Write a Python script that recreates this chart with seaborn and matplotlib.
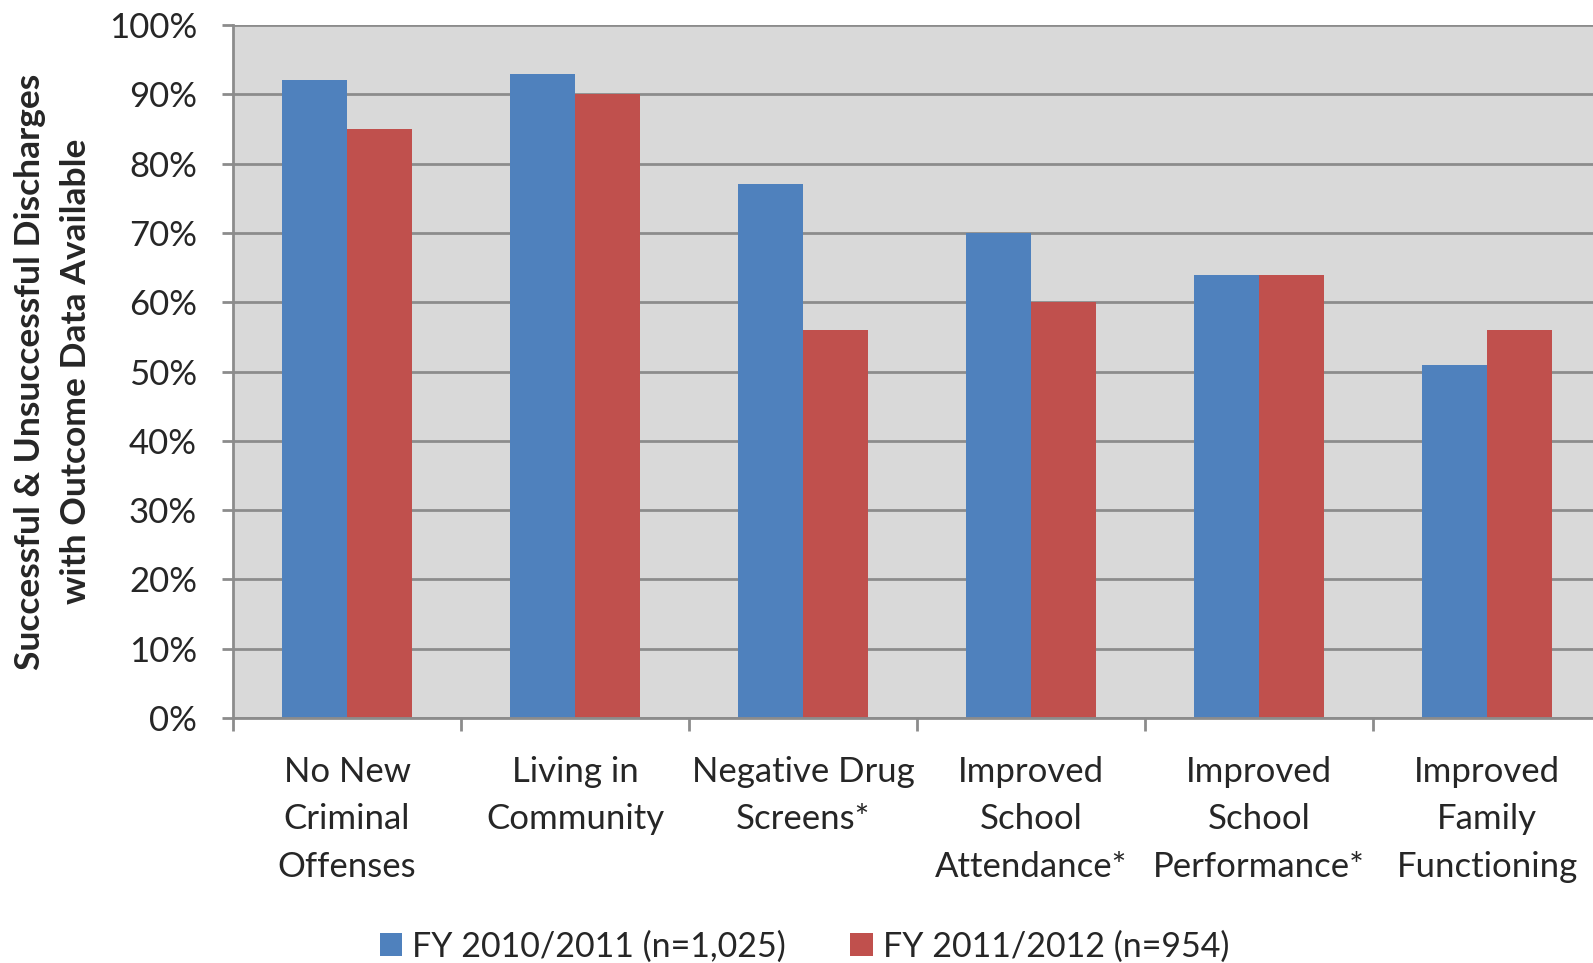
import matplotlib
matplotlib.use("Agg")
import matplotlib.pyplot as plt
import seaborn as sns
import numpy as np
import pandas as pd
from matplotlib.patches import Patch

# data
categories = [
    "No New\nCriminal\nOffenses",
    "Living in\nCommunity",
    "Negative Drug\nScreens*",
    "Improved\nSchool\nAttendance*",
    "Improved\nSchool\nPerformance*",
    "Improved\nFamily\nFunctioning",
]
series_names = ["FY 2010/2011 (n=1,025)", "FY 2011/2012 (n=954)"]
fy_2010 = [92, 93, 77, 70, 64, 51]
fy_2011 = [85, 90, 56, 60, 64, 56]
y_ticks = [0, 10, 20, 30, 40, 50, 60, 70, 80, 90, 100]

BLUE = "#4f81bd"
RED = "#c0504d"
GRID = "#8c8c8c"
TEXT = "#262626"

df = pd.DataFrame({
    "category": categories * 2,
    "series": [series_names[0]] * len(categories) + [series_names[1]] * len(categories),
    "value": fy_2010 + fy_2011,
})

sns.set_theme(style="white")
plt.rcParams["font.family"] = ["Lato", "DejaVu Sans"]

fig = plt.figure(figsize=(15.93, 9.63), dpi=100)
ax = fig.add_axes([0.1463, 0.2544, 0.8588, 0.7196])
ax.set_facecolor("#d9d9d9")

sns.barplot(
    data=df, x="category", y="value", hue="series",
    order=categories, hue_order=series_names,
    palette=[BLUE, RED], width=0.568, gap=0, saturation=1,
    linewidth=0, edgecolor="none",
    ax=ax, legend=False,
)

ax.set_ylim(0, 100)
ax.set_xlim(-0.5, len(categories) - 0.5)
ax.set_yticks(y_ticks)
ax.set_yticklabels([f"{t}%" for t in y_ticks])
ax.yaxis.grid(True, color=GRID, linewidth=2.0)
ax.set_axisbelow(True)

for side in ["top", "right"]:
    ax.spines[side].set_visible(False)
for side in ["left", "bottom"]:
    ax.spines[side].set_color(GRID)
    ax.spines[side].set_linewidth(2.0)

ax.tick_params(axis="y", which="major", direction="out", length=8, width=2,
               color=GRID, labelsize=25, labelcolor=TEXT, pad=18, left=True)
ax.tick_params(axis="x", which="major", length=0, labelsize=25,
               labelcolor=TEXT, pad=27)
ax.set_xticks(np.arange(-0.5, len(categories)), minor=True)
ax.tick_params(axis="x", which="minor", direction="out", length=9, width=2,
               color=GRID, bottom=True)
for lbl in ax.get_xticklabels():
    lbl.set_linespacing(1.6)

ax.set_xlabel("")
ax.set_ylabel("Successful & Unsuccessful Discharges\nwith Outcome Data Available",
              fontsize=25.5, fontweight="bold", color=TEXT, linespacing=1.55)
ax.yaxis.label.set_va("center")
ax.yaxis.set_label_coords(-0.1316, 0.5)

handles = [Patch(facecolor=BLUE, edgecolor="none"), Patch(facecolor=RED, edgecolor="none")]
fig.legend(handles, series_names, loc="center", bbox_to_anchor=(0.505, 0.017),
           ncol=2, frameon=False, fontsize=24.5, handlelength=0.65, handleheight=0.65,
           handletextpad=0.3, columnspacing=1.9, labelcolor=TEXT)

fig.savefig("out.png", dpi=100)
